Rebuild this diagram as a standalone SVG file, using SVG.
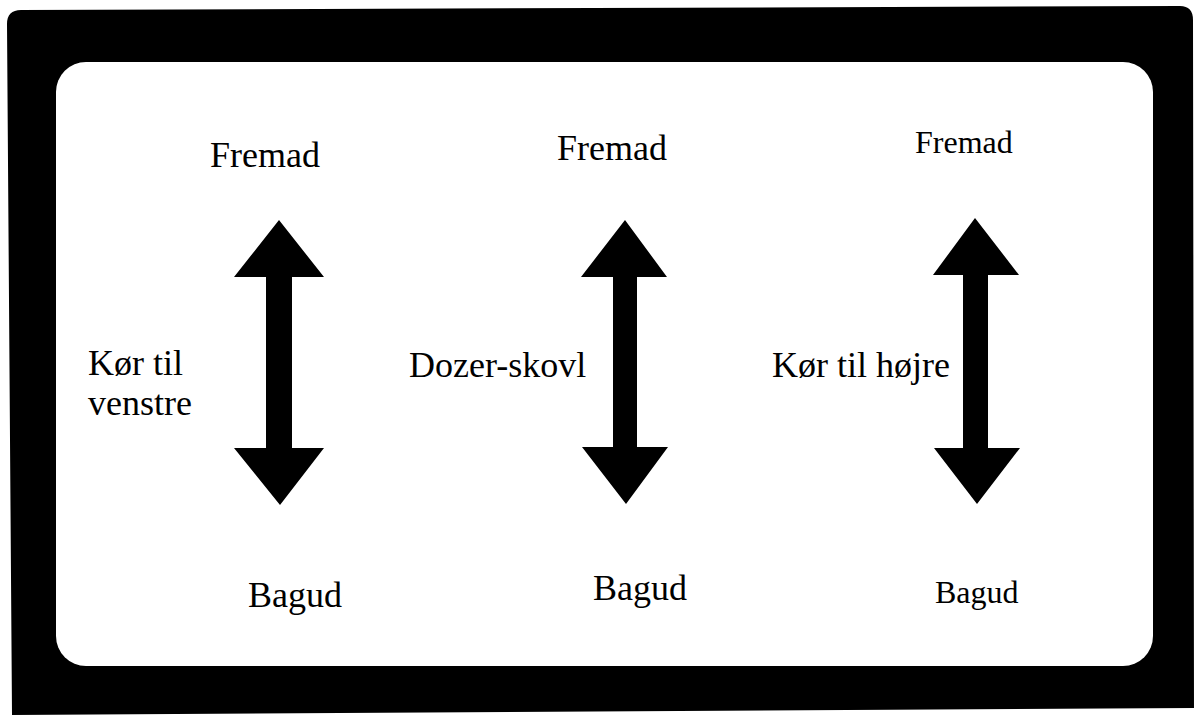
<svg xmlns="http://www.w3.org/2000/svg" width="1194" height="715" viewBox="0 0 1194 715">
  <style>
    .t { font-family: "Liberation Serif", "Times New Roman", serif; font-size: 36px; fill: #000; }
    .s { font-size: 32px; }
    .arrow { fill: #000; }
  </style>
  <rect width="1194" height="715" fill="#fff"/>
  <g id="frame">
    <path d="M7,24 Q7,10 21,10 L1180,6 Q1193,6 1193,20 L1194,708 L12,715 Z" fill="#000"/>
    <rect x="56" y="62" width="1097" height="604" rx="30" ry="30" fill="#fff"/>
  </g>
  <g id="connectors">
    <polygon class="arrow" points="279,220 324,277 292,277 292,448 324,448 280,505 234,448 266,448 266,277 234,277"/>
    <polygon class="arrow" points="625,220 667,277 637,277 637,447 668,447 626,504 582,447 613,447 613,277 581,277"/>
    <polygon class="arrow" points="975,218 1019,275 988,275 988,448 1020,448 977,504 934,448 963,448 963,275 933,275"/>
  </g>
  <g id="left-fremad"><text class="t" x="210" y="167">Fremad</text></g>
  <g id="left-label"><text class="t" x="88" y="375">Kør til</text><text class="t" x="88" y="415">venstre</text></g>
  <g id="left-bagud"><text class="t" x="248" y="607">Bagud</text></g>
  <g id="mid-fremad"><text class="t" x="557" y="160">Fremad</text></g>
  <g id="mid-label"><text class="t" x="409" y="377">Dozer-skovl</text></g>
  <g id="mid-bagud"><text class="t" x="593" y="600">Bagud</text></g>
  <g id="right-fremad"><text class="t s" x="915" y="153">Fremad</text></g>
  <g id="right-label"><text class="t" x="772" y="377">Kør til højre</text></g>
  <g id="right-bagud"><text class="t s" x="935" y="603">Bagud</text></g>
</svg>
